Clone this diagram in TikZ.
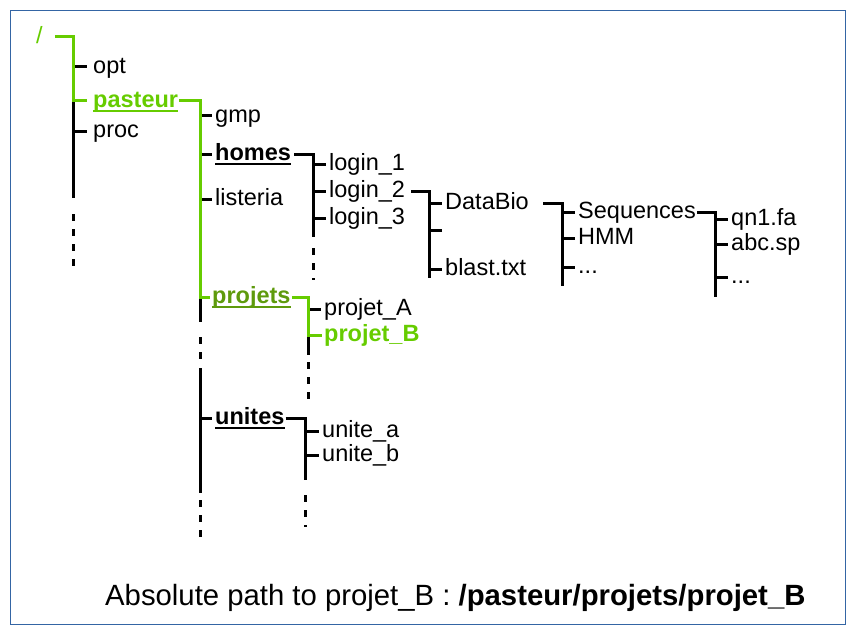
\documentclass[tikz,border=0pt]{standalone}
\usepackage{fontspec}
\setmainfont{Liberation Sans}
\definecolor{pathG}{HTML}{66CC00}
\definecolor{pathD}{HTML}{5E9A0C}
\definecolor{frameB}{HTML}{3465A4}

\begin{document}
% ex of the label font, so that the mid anchors sit on the ticks
\fontsize{23.5}{26}\selectfont
\begin{tikzpicture}[x=1pt,y=-1pt,
  file/.style={anchor=mid west,inner sep=0pt,font=\fontsize{23.5}{26}\selectfont},
  dir/.style={file,font=\fontsize{23.5}{26}\selectfont\bfseries},
  trunk/.style={line width=3pt},
  hidden/.style={line width=3pt,dash pattern=on 7pt off 8pt},
  sel/.style={line width=3pt,pathG}]
\useasboundingbox (0,0) rectangle (855,634);
\draw[frameB,line width=1pt] (10.5,10.5) rectangle (845,624.5);

% /
\node[file,text=pathG] (root) at (36,37) {/};
\node[file] (opt) at (93,67) {opt};
\node[dir,text=pathG] (pasteur) at (93,101) {pasteur};
\node[file] (proc) at (93,131) {proc};
\draw[trunk] (73,101) -- (73,198);
\draw[hidden] (73,214) -- (73,266);
\foreach \n in {opt,proc}
  \draw[trunk] ([xshift=-20pt]\n.mid west) -- ([xshift=-6pt]\n.mid west);
\draw[sel] ([xshift=12pt]root.mid east) -| ([xshift=-20pt]pasteur.mid west) -- ([xshift=-6pt]pasteur.mid west);

% /pasteur
\node[file] (gmp) at (215,116) {gmp};
\node[dir] (homes) at (215,154) {homes};
\node[file] (listeria) at (215,199) {listeria};
\node[dir,text=pathD] (projets) at (212,297) {projets};
\node[dir] (unites) at (215,418) {unites};
\draw[trunk] (200,297) -- (200,322);
\draw[hidden] (200,337) -- (200,362);
\draw[trunk] (200,368) -- (200,493);
\draw[hidden] (200,500) -- (200,542);
\foreach \n in {gmp,homes,listeria,unites}
  \draw[trunk] ([xshift=-15pt]\n.mid west) -- ([xshift=-3pt]\n.mid west);
\draw[sel] ([xshift=1pt]pasteur.mid east) -| ([xshift=-12pt]projets.mid west) -- ([xshift=-2pt]projets.mid west);

% /pasteur/homes
\node[file] (login1) at (329,164) {login\_1};
\node[file] (login2) at (329,191) {login\_2};
\node[file] (login3) at (329,218) {login\_3};
\draw[trunk] ([xshift=3pt]homes.mid east) -| ([xshift=-16pt]login3.mid west) -- ([xshift=-3pt]login3.mid west);
\foreach \n in {login1,login2}
  \draw[trunk] ([xshift=-16pt]\n.mid west) -- ([xshift=-3pt]\n.mid west);
\draw[trunk] ([xshift=-16pt]login3.mid west) -- ++(0,19);
\draw[hidden] ([xshift=-16pt]login3.mid west) ++(0,30) -- ++(0,32);

% /pasteur/homes/login_2
\node[file] (databio) at (445,203) {DataBio};
\node[file] (blast) at (445,269) {blast.txt};
\coordinate (nofile) at (442,230);
\draw[trunk] ([xshift=6pt]login2.mid east) -| ([xshift=-16pt]blast.mid west) -- ([xshift=-3pt]blast.mid west);
\draw[trunk] ([xshift=-16pt]blast.mid west) -- ++(0,9);
\draw[trunk] ([xshift=-16pt]databio.mid west) -- ([xshift=-3pt]databio.mid west);
\draw[trunk] (nofile) -- ++(-13,0);

% DataBio
\node[file] (seq) at (578,212) {Sequences};
\node[file] (hmm) at (578,238) {HMM};
\node[file] (more1) at (578,267) {...};
\draw[trunk] ([xshift=14pt]databio.mid east) -| ([xshift=-16pt]more1.mid west) -- ([xshift=-3pt]more1.mid west);
\draw[trunk] ([xshift=-16pt]more1.mid west) -- ++(0,19);
\foreach \n in {seq,hmm}
  \draw[trunk] ([xshift=-16pt]\n.mid west) -- ([xshift=-3pt]\n.mid west);

% Sequences
\node[file] (qn) at (731,219) {qn1.fa};
\node[file] (abc) at (731,244) {abc.sp};
\node[file] (more2) at (731,277) {...};
\draw[trunk] ([xshift=1pt]seq.mid east) -| ([xshift=-16pt]more2.mid west) -- ([xshift=-3pt]more2.mid west);
\draw[trunk] ([xshift=-16pt]more2.mid west) -- ++(0,20);
\foreach \n in {qn,abc}
  \draw[trunk] ([xshift=-16pt]\n.mid west) -- ([xshift=-3pt]\n.mid west);

% /pasteur/projets
\node[file] (projA) at (324,309) {projet\_A};
\node[dir,text=pathG] (projB) at (324,335) {projet\_B};
\draw[trunk] (308,335) -- (308,355);
\draw[hidden] (308,362) -- (308,402);
\draw[trunk] ([xshift=-16pt]projA.mid west) -- ([xshift=-3pt]projA.mid west);
\draw[sel] ([xshift=1pt]projets.mid east) -| ([xshift=-16pt]projB.mid west) -- ([xshift=-2pt]projB.mid west);

% /pasteur/unites
\node[file] (unitea) at (322,431) {unite\_a};
\node[file] (uniteb) at (322,455) {unite\_b};
\draw[trunk] ([xshift=1pt]unites.mid east) -| ([xshift=-17pt]uniteb.mid west) -- ([xshift=-3pt]uniteb.mid west);
\draw[trunk] ([xshift=-17pt]unitea.mid west) -- ([xshift=-3pt]unitea.mid west);
\draw[trunk] ([xshift=-17pt]uniteb.mid west) -- ++(0,25);
\draw[hidden] ([xshift=-17pt]uniteb.mid west) ++(0,40) -- ++(0,32);

% underlined directories
\foreach \n/\c in {pasteur/pathG,homes/black,projets/pathD,unites/black}
  \draw[\c,line width=2pt] ([yshift=-4pt]\n.base west) -- ([yshift=-4pt]\n.base east);

\node[anchor=base west,inner sep=0pt,font=\fontsize{29.3}{34}\selectfont] (abspath) at (105,605)
  {Absolute path to projet\_B : \textbf{/pasteur/projets/projet\_B}};
\end{tikzpicture}
\end{document}
